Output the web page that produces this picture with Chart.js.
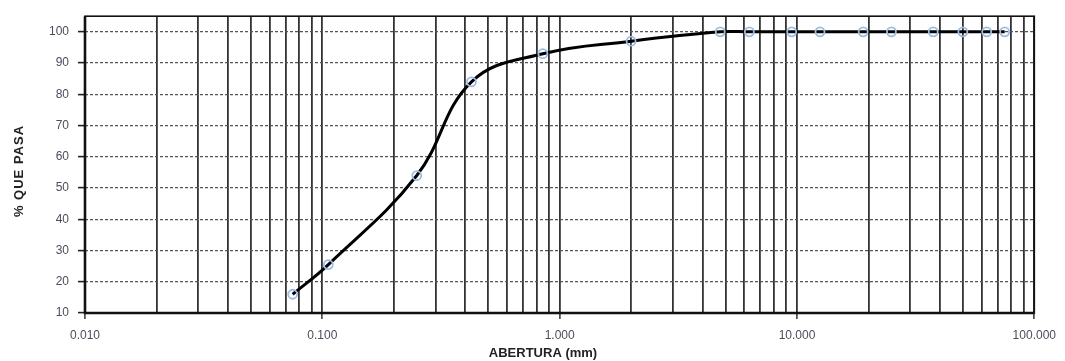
<!DOCTYPE html>
<html>
<head>
<meta charset="utf-8">
<script src="https://cdn.jsdelivr.net/npm/chart.js@4/dist/chart.umd.min.js"></script>
<style>
  html, body { margin: 0; padding: 0; background: #fff; }
  #wrap { width: 1065px; height: 361px; }
</style>
</head>
<body>
<div id="wrap"><canvas id="c" width="1065" height="361"></canvas></div>
<script>
// ---- data ----
const aberturas = [0.075, 0.106, 0.25, 0.425, 0.85, 2.0, 4.75, 6.3, 9.5, 12.5, 19.0, 25.0, 37.5, 50.0, 63.0, 75.0];
const pasa      = [16, 25.5, 54, 84, 93, 97, 100, 100, 100, 100, 100, 100, 100, 100, 100, 100];
const xTickValues = [0.01, 0.1, 1, 10, 100];
const xTickLabels = ['0.010', '0.100', '1.000', '10.000', '100.000'];
const yTickValues = [10, 20, 30, 40, 50, 60, 70, 80, 90, 100];
const xTitle = 'ABERTURA (mm)';
const yTitle = '% QUE PASA';

// grid positions on the log axis: 1..9 x each decade
const xGrid = [];
for (let d = 0; d < xTickValues.length - 1; d++) {
  for (let m = 1; m <= 9; m++) xGrid.push(+(m * xTickValues[d]).toPrecision(6));
}
xGrid.push(xTickValues[xTickValues.length - 1]);
const isDecade = v => xTickValues.some(t => Math.abs(t - v) < 1e-9);

const FONT = '"Liberation Sans", Arial, sans-serif';

const framePlugin = {
  id: 'frame',
  beforeDatasetsDraw(chart) {
    const {ctx, chartArea: a} = chart;
    ctx.save();
    ctx.strokeStyle = '#111';
    ctx.lineWidth = 1.6;
    ctx.strokeRect(a.left, a.top, a.right - a.left, a.bottom - a.top);
    ctx.lineWidth = 2.6;
    ctx.beginPath();
    ctx.moveTo(a.left, a.top); ctx.lineTo(a.left, a.bottom); ctx.lineTo(a.right, a.bottom);
    ctx.stroke();
    ctx.restore();
  },
  afterDraw(chart) {
    const {ctx} = chart;
    ctx.save();
    ctx.font = 'bold 13px ' + FONT;
    ctx.fillStyle = '#222';
    ctx.textAlign = 'center';
    ctx.textBaseline = 'middle';
    ctx.fillText(xTitle, 543, 353);
    ctx.translate(19, 171);
    ctx.rotate(-Math.PI / 2);
    ctx.font = 'bold 13px ' + FONT;
    try { ctx.letterSpacing = '1px'; } catch (e) {}
    ctx.fillText(yTitle, 0, 0);
    ctx.restore();
  }
};

new Chart(document.getElementById('c'), {
  type: 'line',
  data: {
    datasets: [{
      data: aberturas.map((x, i) => ({x: x, y: pasa[i]})),
      borderColor: '#000',
      borderWidth: 3,
      tension: 0.4,
      pointRadius: 4.5,
      pointBorderWidth: 1.8,
      pointBorderColor: '#9dbde6',
      pointBackgroundColor: 'rgba(0,0,0,0)',
      fill: false,
      clip: false
    }]
  },
  options: {
    responsive: false,
    animation: false,
    devicePixelRatio: 1,
    layout: { padding: { top: 14, right: 28, left: 0, bottom: 0 } },
    plugins: { legend: { display: false }, tooltip: { enabled: false } },
    scales: {
      x: {
        type: 'logarithmic',
        min: 0.01,
        max: 100,
        afterBuildTicks(scale) { scale.ticks = xGrid.map(v => ({value: v, major: isDecade(v)})); },
        afterFit(scale) { scale.height = 48; },
        ticks: {
          autoSkip: false,
          maxRotation: 0,
          minRotation: 0,
          padding: 9,
          color: '#4a4e5a',
          font: { family: FONT, size: 12 },
          callback(value) {
            const i = xTickValues.findIndex(t => Math.abs(t - value) < 1e-9);
            return i >= 0 ? xTickLabels[i] : '';
          }
        },
        grid: {
          color: '#333',
          lineWidth: 1.8,
          drawTicks: true,
          tickLength: 6,
          tickColor: ctx => (ctx.tick && isDecade(ctx.tick.value)) ? '#222' : 'rgba(0,0,0,0)',
          tickWidth: 1.4
        },
        border: { display: false }
      },
      y: {
        min: 10,
        max: 105,
        afterBuildTicks(scale) { scale.ticks = yTickValues.map(v => ({value: v})); },
        afterFit(scale) { scale.width = 85; },
        title: { display: false },
        ticks: {
          padding: 9,
          color: '#4a4e5a',
          font: { family: FONT, size: 12 }
        },
        grid: {
          color: '#555',
          lineWidth: 1.2,
          tickLength: 7,
          tickColor: '#222',
          tickWidth: 1.6,
          tickBorderDash: []
        },
        border: { display: false, dash: [3, 2] }
      }
    }
  },
  plugins: [framePlugin]
});
</script>
</body>
</html>
